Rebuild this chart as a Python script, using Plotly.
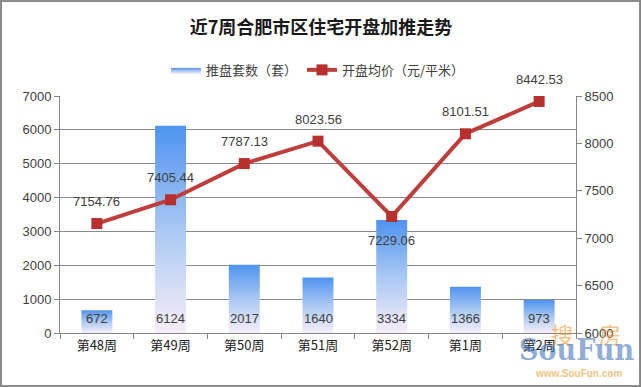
import plotly.graph_objects as go

weeks = ["第48周", "第49周", "第50周", "第51周", "第52周", "第1周", "第2周"]
units = [672, 6124, 2017, 1640, 3334, 1366, 973]
prices = [7154.76, 7405.44, 7787.13, 8023.56, 7229.06, 8101.51, 8442.53]
price_label_below = [False, False, False, False, True, False, False]
left_ticks = [0, 1000, 2000, 3000, 4000, 5000, 6000, 7000]
right_ticks = [6000, 6500, 7000, 7500, 8000, 8500]

title_text = "近7周合肥市区住宅开盘加推走势"
bar_name = "推盘套数（套）"
line_name = "开盘均价（元/平米）"

FONT = "Liberation Sans, Noto Sans CJK SC, sans-serif"
CJK = "Noto Sans CJK SC, sans-serif"
TXT = "#404040"
half = 0.21

fig = go.Figure()
xs = list(range(len(weeks)))
for i, v in enumerate(units):
    fig.add_trace(go.Scatter(
        x=[i - half, i + half, i + half, i - half, i - half],
        y=[0, 0, v, v, 0],
        mode="lines", fill="toself", line=dict(width=0, color="rgba(0,0,0,0)"),
        fillgradient=dict(type="vertical",
                          colorscale=[[0, "#f6eef9"], [0.5, "#a9c8f3"], [1, "#4f93f0"]]),
        name=bar_name, legendgroup="bar", showlegend=(i == 0),
        hoverinfo="skip"))

fig.add_trace(go.Scatter(
    x=xs, y=prices, yaxis="y2", mode="lines+markers",
    name=line_name,
    line=dict(color="#bf3e3b", width=4),
    marker=dict(symbol="square", size=11, color="#b8302e")))

for i, u in enumerate(units):
    fig.add_annotation(x=i, y=0, text=str(u), showarrow=False, yshift=15,
                       font=dict(family=FONT, size=13, color=TXT))
for i, p in enumerate(prices):
    fig.add_annotation(x=i, y=p, yref="y2", text=f"{p:.2f}", showarrow=False,
                       yshift=-24 if price_label_below[i] else 22,
                       font=dict(family=FONT, size=13, color=TXT))

fig.update_layout(
    width=642, height=387,
    margin=dict(l=60, r=66, t=96, b=54),
    paper_bgcolor="white", plot_bgcolor="white",
    title=dict(text=title_text, x=0.5, xref="container", xanchor="center",
               y=1 - 28 / 387, yanchor="middle",
               font=dict(family=CJK, size=18, color="#1a1a1a", weight="bold")),
    legend=dict(orientation="h", x=0.5, xanchor="center", y=1.11, yanchor="middle",
                font=dict(family=CJK, size=13, color=TXT), itemwidth=30,
                bgcolor="rgba(0,0,0,0)"),
    xaxis=dict(range=[-0.5, 6.5], tickvals=xs, ticktext=weeks, ticks="",
               showgrid=False, zeroline=False, showline=True, linecolor="#868686",
               tickfont=dict(family=CJK, size=13, color="#222222"),
               minor=dict(tickvals=[i - 0.5 for i in range(len(weeks) + 1)],
                          ticks="outside", ticklen=5, tickcolor="#868686", showgrid=False)),
    yaxis=dict(range=[0, 7000], tickvals=left_ticks, showgrid=True, gridcolor="#8a8a8a",
               gridwidth=1, zeroline=False, showline=True, linecolor="#868686",
               ticks="outside", ticklen=5, tickcolor="#868686",
               tickfont=dict(family=FONT, size=13, color=TXT)),
    yaxis2=dict(range=[6000, 8500], tickvals=right_ticks, overlaying="y", side="right",
                showgrid=False, zeroline=False, showline=True, linecolor="#868686",
                ticks="outside", ticklen=5, tickcolor="#868686",
                tickfont=dict(family=FONT, size=13, color=TXT)),
    showlegend=True,
)

# outer frame
pw, ph = 642 - 60 - 66, 387 - 96 - 54
fig.add_shape(type="rect", xref="paper", yref="paper",
              x0=-59 / pw, x1=1 + 64 / pw, y0=-53 / ph, y1=1 + 95 / ph,
              line=dict(color="#8c8c8c", width=2), fillcolor="rgba(0,0,0,0)", layer="below")

# watermark
def px_x(px):
    return (px - 60) / pw

def px_y(py):
    return 1 - (py - 96) / ph

wm = dict(xref="paper", yref="paper", showarrow=False, xanchor="center", yanchor="middle")
fig.add_annotation(text="搜", x=px_x(562), y=px_y(333), **wm,
                   font=dict(family=CJK, size=22, color="rgba(240,150,40,0.6)"))
fig.add_annotation(text="房", x=px_x(610), y=px_y(333), **wm,
                   font=dict(family=CJK, size=22, color="rgba(240,150,40,0.6)"))
fig.add_annotation(text="<b>SouFun</b>", x=px_x(576), y=px_y(349), **wm,
                   font=dict(family="DejaVu Serif Condensed, serif", size=30,
                             color="rgba(70,120,190,0.6)"))
fig.add_annotation(text="<b>www.SouFun.com</b>", x=px_x(578), y=px_y(373), **wm,
                   font=dict(family="Liberation Sans, sans-serif", size=10,
                             color="rgba(240,150,40,0.6)"))

fig.write_html("out.html", config={"displayModeBar": False},
               post_script="document.body.style.margin='0';document.body.style.padding='0';"
                           "document.body.style.overflow='hidden';"
                           "document.documentElement.style.overflow='hidden';")
